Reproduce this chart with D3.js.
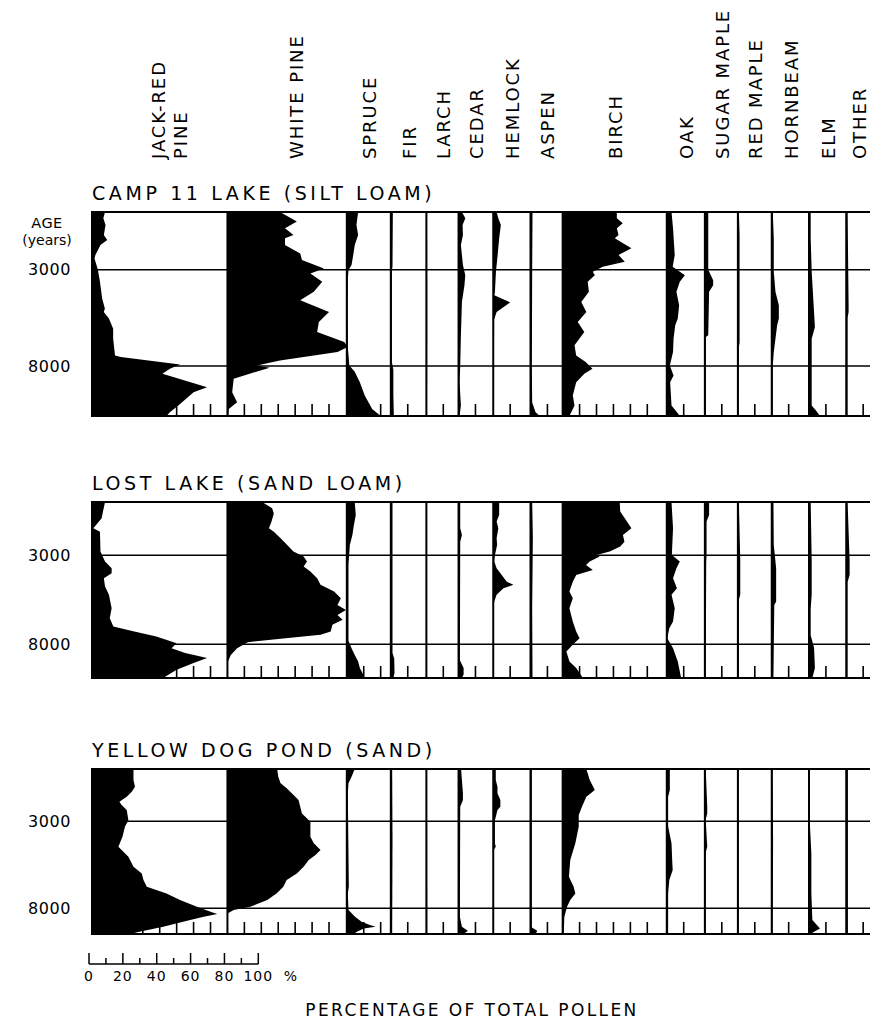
<!DOCTYPE html>
<html><head><meta charset="utf-8">
<script src="https://cdn.jsdelivr.net/npm/d3@7"></script>
<style>
body{margin:0;background:#fff}
svg{display:block}
text{font-family:"DejaVu Sans",sans-serif;fill:#000}
</style>
</head><body>
<svg id="c" width="870" height="1021"></svg>
<script>
// ---------------- DATA ----------------
const TAXA = [["JACK-RED","PINE"],["WHITE PINE"],["SPRUCE"],["FIR"],["LARCH"],["CEDAR"],["HEMLOCK"],["ASPEN"],["BIRCH"],["OAK"],["SUGAR MAPLE"],["RED MAPLE"],["HORNBEAM"],["ELM"],["OTHER"]];
// percentage range given to each taxon column
const COL_MAX = [80,70.5,26,21,19,20.5,22,19,61.5,22.5,19.5,20,22,22,20];
const SITES = ["CAMP 11 LAKE (SILT LOAM)","LOST LAKE (SAND LOAM)","YELLOW DOG POND (SAND)"];
const SITE_MAX_AGE = [10600, 9900, 9480];
const AGE_TICKS = [3000, 8000];
const PCT_TICKS = [0,10,20,30,40,50,60,70,80,90,100];
const PCT_LABELS = [0,20,40,60,80,100];

// Camp 11 Lake  [age (yr BP), percent]
const C_JACK = [[0,7.7],[330,6.7],[680,8],[1200,7],[1460,9],[1720,5],[2240,2],[2410,1.5],[3020,3.5],[3630,4.7],[4500,6],[5020,7.6],[5190,7],[5540,10],[6060,12.5],[6580,12.5],[7450,13.6],[7530,17],[7930,52],[8140,46],[8400,41.6],[9100,68],[9360,60],[10050,51],[10400,46],[10600,44]];
const C_WHITE = [[0,31],[500,41],[850,34],[1200,39],[1370,34],[1720,34],[2150,43],[2500,44],[2930,57],[3190,49],[3630,56],[4150,51],[4580,43],[5190,60],[5710,54],[6230,53],[6750,69],[7010,71],[7270,65],[7710,31],[7970,17.5],[8090,25],[8230,19.5],[8660,3.7],[9360,2.8],[9880,5.7],[10230,0.8],[10600,0.5]];
const C_SPRUCE = [[0,6.7],[680,5.7],[1200,6.7],[1720,4.7],[2240,3.8],[2760,2.8],[3020,1],[3500,0.6],[5000,0.5],[7000,0.6],[7970,1.5],[8300,4.7],[8840,7.7],[9530,10.6],[10230,15],[10600,20]];
const C_FIR = [[0,1.2],[2800,1],[3100,0.6],[7800,0.6],[8200,1.5],[9500,1.5],[10600,1.8]];
const C_LARCH = [[0,0.4],[5000,0.5],[10600,0.4]];
const C_CEDAR = [[0,2],[330,4],[680,2.4],[1200,2.6],[1720,1.4],[2760,2.6],[3280,4],[3800,3.5],[4670,2],[6400,1.4],[7970,1],[8840,0.6],[10050,1.4],[10600,0.6]];
const C_HEMLOCK = [[0,2],[330,3],[680,4.5],[1370,3.5],[2240,2.6],[3100,1.6],[4150,1],[4320,0.6],[4700,10],[5190,2],[5600,0.5],[10600,0.3]];
const C_ASPEN = [[0,1.2],[3000,1],[8000,0.8],[9900,1],[10400,3],[10600,5.5]];
const C_BIRCH = [[0,32],[330,32],[590,35.5],[850,32],[1200,33],[1370,30.8],[1890,40.6],[2240,33],[2590,36.7],[2850,23.7],[3110,17.8],[3280,19],[3630,14.8],[4150,15.5],[4670,11],[5190,14],[5710,8.9],[6230,12.8],[6930,7],[7450,8],[7790,13.6],[8140,17.6],[8400,12.8],[8840,8],[9530,6],[10050,7],[10600,4]];
const C_OAK = [[0,2.8],[850,3.7],[2240,4.7],[2850,3.5],[3280,10.7],[3630,7.7],[4150,5.7],[4840,7.3],[5540,6.5],[5880,5],[6580,4],[7270,3.7],[7970,1.8],[8490,4],[8840,2],[10050,2.8],[10480,6.7],[10600,7.7]];
const C_SUGAR = [[0,2],[3000,2],[3540,4.9],[3800,4.9],[4150,2.5],[6400,2],[6500,0.6],[10600,0.6]];
const C_REDMAPLE = [[0,0.6],[1200,1],[6800,1],[7000,0.6],[10600,0.5]];
const C_HORNBEAM = [[0,0.6],[1370,1.2],[3100,1.2],[4150,2.2],[4840,4.2],[5540,4.2],[5880,3.2],[6580,2.2],[7270,1.2],[7970,0.6],[10600,0.6]];
const C_ELM = [[0,1],[1370,1],[3110,1.6],[5970,3.5],[6580,1.6],[8660,1.6],[10050,1.6],[10300,4],[10600,6.5]];
const C_OTHER = [[0,0.8],[4840,1.4],[5190,1.4],[5500,0.8],[10600,0.8]];

// Lost Lake
const L_JACK = [[0,7.7],[540,6.5],[920,5.7],[1480,0.8],[1670,4.7],[2790,5],[3350,7.7],[3730,11.6],[4010,11.6],[4290,7],[4760,7.7],[5220,10],[5970,11.6],[6540,10.5],[7000,12.6],[7290,25],[7570,38],[7940,50],[8220,47],[8500,55],[8780,68],[9060,60],[9440,50],[9900,42]];
const L_WHITE = [[0,20.5],[356,26.4],[640,27.4],[1105,26],[1480,24.5],[1670,27.4],[2040,31.4],[2420,35.3],[2790,39],[3070,45],[3350,47],[3630,45],[3910,49],[4290,53],[4660,55],[5040,63],[5410,67],[5790,65],[6070,70],[6350,65],[6630,68],[6910,62],[7290,61],[7470,55],[7700,30],[7890,12],[8220,5.7],[8600,2],[8970,0.3],[9900,0.2]];
const L_SPRUCE = [[0,4.7],[730,5.3],[1290,4.2],[1850,3.3],[2420,1.8],[2980,1.4],[3500,1],[7800,1],[8220,2.8],[8600,4.7],[8970,6.7],[9340,7.7],[9700,9.7],[9900,10]];
const L_FIR = [[0,1],[8500,1],[8800,2],[9600,2.2],[9900,1.5]];
const L_LARCH = [[0,0.4],[9900,0.4]];
const L_CEDAR = [[0,1],[1480,1],[1850,2],[2230,1],[8900,0.8],[9340,3],[9700,3],[9900,2]];
const L_HEMLOCK = [[0,3.5],[730,3.5],[1100,2],[1480,3],[2040,2],[2420,2.3],[2980,1],[3350,0.6],[3730,2],[4100,5],[4480,8],[4660,11.9],[4850,6],[5220,2],[5600,0.6],[5800,0.3],[9900,0.4]];
const L_ASPEN = [[0,1],[2000,1.4],[6000,1],[9900,1.2]];
const L_BIRCH = [[0,33.7],[540,34],[920,36.7],[1480,40.6],[1850,35.6],[2230,36.5],[2510,34],[2790,27.8],[2980,20],[3070,21.9],[3350,16],[3540,13.8],[3820,17.8],[4100,8],[4480,6],[5040,4],[5410,6],[5970,4],[6350,5],[6720,6],[7290,8],[7660,10],[8030,6],[8410,2.2],[8970,4],[9340,8],[9900,12]];
const L_OAK = [[0,2.8],[1480,3.7],[2980,3],[3350,7.7],[3730,5.7],[4290,3.7],[4850,6],[5220,2.8],[5970,4.7],[6720,3.7],[7100,1.5],[7660,0.3],[8220,3.7],[8970,6.5],[9530,7.7],[9900,8.5]];
const L_SUGAR = [[0,2.5],[730,2.5],[1100,1],[3000,1],[3400,0.8],[9900,0.5]];
const L_REDMAPLE = [[0,0.6],[3300,1.4],[5200,1.4],[5500,0.6],[9900,0.6]];
const L_HORNBEAM = [[0,1],[2400,1.2],[3730,2.6],[5600,2.6],[5800,1.5],[9900,1]];
const L_ELM = [[0,1],[3300,1.6],[5200,1.6],[6000,1],[7500,1],[8200,3],[9340,3.5],[9900,2]];
const L_OTHER = [[0,0.8],[3300,2],[4100,2],[4500,0.8],[9900,0.8]];

// Yellow Dog Pond
const Y_JACK = [[0,24.5],[630,24.5],[1015,25.4],[1300,23.5],[1590,20.5],[1880,16.2],[2070,17.5],[2360,20.5],[2940,21.5],[3310,19.5],[3890,18],[4460,15.6],[4660,17.5],[5040,21.5],[5610,24.5],[6000,29.4],[6380,30.4],[6760,32.4],[7150,44],[7530,52],[7910,62],[8200,70],[8330,74],[8490,66],[8680,58],[9060,42],[9350,28],[9480,22.5]];
const Y_WHITE = [[0,29.4],[440,30],[820,31.4],[1110,35],[1400,38],[1780,42],[2170,43],[2550,44],[3030,49],[3890,49],[4270,51],[4660,55],[4940,52],[5230,48],[5610,45],[6000,41],[6380,35],[6760,33],[7150,29],[7530,23.5],[7910,13.6],[8100,3.7],[8290,0.3],[9480,0.3]];
const Y_SPRUCE = [[0,4.7],[440,2.8],[820,1],[1400,0.6],[6760,1.2],[7150,0.6],[8100,1],[8480,4.7],[8770,8.7],[8960,13.6],[9060,17],[9160,10],[9350,6],[9480,4]];
const Y_FIR = [[0,0.8],[4000,1],[9480,0.8]];
const Y_LARCH = [[0,0.4],[9480,0.5]];
const Y_CEDAR = [[0,1.5],[630,2],[1400,2.6],[1780,2.6],[2170,1],[8500,0.8],[9060,2],[9290,5.5],[9480,3]];
const Y_HEMLOCK = [[0,1.5],[630,1.5],[1015,2.5],[1400,2.5],[1780,4.2],[2170,4.2],[2360,2.5],[2940,1],[4270,1],[4460,1.5],[4660,0.3],[9480,0.3]];
const Y_ASPEN = [[0,0.8],[9100,0.8],[9290,4],[9480,3]];
const Y_BIRCH = [[0,14],[630,16],[1210,19],[1590,14],[2170,11.4],[2640,9.5],[3310,9.5],[4270,7.5],[5230,4.5],[6190,3.7],[6760,6.5],[7150,7.5],[7530,4.5],[7910,2.6],[8490,1],[9480,0.6]];
const Y_OAK = [[0,1.8],[1210,1.8],[1590,0.8],[3310,0.8],[4270,2.8],[5230,3.2],[5800,3.5],[6380,1.5],[7150,0.8],[9480,0.8]];
const Y_SUGAR = [[0,0.5],[2170,1.4],[2550,1.4],[2900,0.5],[4460,1.4],[4800,0.5],[9480,0.5]];
const Y_REDMAPLE = [[0,0.5],[9480,0.5]];
const Y_HORNBEAM = [[0,0.5],[4270,0.8],[9480,0.5]];
const Y_ELM = [[0,0.6],[3300,0.6],[4850,1.4],[7150,1.4],[8680,2],[9160,6.5],[9350,3],[9480,1]];
const Y_OTHER = [[0,1],[9480,1]];

const SITE_SERIES = [
  [C_JACK,C_WHITE,C_SPRUCE,C_FIR,C_LARCH,C_CEDAR,C_HEMLOCK,C_ASPEN,C_BIRCH,C_OAK,C_SUGAR,C_REDMAPLE,C_HORNBEAM,C_ELM,C_OTHER],
  [L_JACK,L_WHITE,L_SPRUCE,L_FIR,L_LARCH,L_CEDAR,L_HEMLOCK,L_ASPEN,L_BIRCH,L_OAK,L_SUGAR,L_REDMAPLE,L_HORNBEAM,L_ELM,L_OTHER],
  [Y_JACK,Y_WHITE,Y_SPRUCE,Y_FIR,Y_LARCH,Y_CEDAR,Y_HEMLOCK,Y_ASPEN,Y_BIRCH,Y_OAK,Y_SUGAR,Y_REDMAPLE,Y_HORNBEAM,Y_ELM,Y_OTHER]
];

// ---------------- LAYOUT ----------------
const W = 870;
const LEFT = 92, PX_PER_PCT = 1.693;
const PANEL_TOP = [212, 502, 769];
const PANEL_BOT = [416, 678, 934];
const LABEL_NUDGE = {0: 9, 1: 8, 14: -5};
const svg = d3.select("#c");

const colStart = [];
COL_MAX.reduce((acc, w, i) => { colStart[i] = acc; return acc + w; }, 0);
const total = d3.sum(COL_MAX);
const x = d3.scaleLinear().domain([0, total]).range([LEFT, LEFT + total * PX_PER_PCT]);

// column header labels (rotated)
TAXA.forEach((lines, i) => {
  const cx = x(colStart[i] + COL_MAX[i] / 2) + 1 + (LABEL_NUDGE[i] || 0);
  const n = lines.length;
  lines.forEach((t, j) => {
    const lx = cx + (j - (n - 1) / 2) * 22;
    svg.append("text")
      .attr("transform", `translate(${lx},159) rotate(-90)`)
      .attr("dy", "0.36em")
      .attr("font-size", 18)
      .attr("letter-spacing", 1.9)
      .text(t);
  });
});

// AGE (years) label
svg.append("text").attr("x", 47).attr("y", 228).attr("text-anchor", "middle")
  .attr("font-size", 14.5).attr("letter-spacing", 0.5).text("AGE");
svg.append("text").attr("x", 47).attr("y", 245).attr("text-anchor", "middle")
  .attr("font-size", 14).text("(years)");

SITES.forEach((site, p) => {
  const top = PANEL_TOP[p], bot = PANEL_BOT[p];
  const y = d3.scaleLinear().domain([0, SITE_MAX_AGE[p]]).range([top, bot]);
  const g = svg.append("g");

  // title
  g.append("text").attr("x", LEFT).attr("y", top - 12)
    .attr("font-size", 19).attr("letter-spacing", 3.6).text(site);

  // silhouettes
  SITE_SERIES[p].forEach((data, i) => {
    const x0 = x(colStart[i]);
    const area = d3.area()
      .x0(x0)
      .x1(d => x(colStart[i] + d[1]))
      .y(d => y(d[0]));
    g.append("path").attr("d", area(data)).attr("fill", "#000");
  });

  // horizontal lines: top, age ticks, bottom
  [0, ...AGE_TICKS, SITE_MAX_AGE[p]].forEach((a, k) => {
    g.append("line")
      .attr("x1", LEFT).attr("x2", W)
      .attr("y1", y(a)).attr("y2", y(a))
      .attr("stroke", "#000")
      .attr("stroke-width", (k === 0 || a === SITE_MAX_AGE[p]) ? 2 : 1.5);
  });

  // column boundaries
  [...colStart, total].forEach(c => {
    g.append("line")
      .attr("x1", x(c)).attr("x2", x(c))
      .attr("y1", top - 1).attr("y2", bot + 1)
      .attr("stroke", "#000").attr("stroke-width", 2);
  });

  // bottom ticks every 10%
  COL_MAX.forEach((m, i) => {
    d3.range(10, m - 3, 10).forEach(t => {
      g.append("line")
        .attr("x1", x(colStart[i] + t)).attr("x2", x(colStart[i] + t))
        .attr("y1", bot).attr("y2", bot - 12)
        .attr("stroke", "#000").attr("stroke-width", 1.6);
    });
  });

  // age labels
  AGE_TICKS.forEach(a => {
    g.append("text").attr("x", 71).attr("y", y(a)).attr("dy", "0.36em")
      .attr("text-anchor", "end").attr("font-size", 16).attr("letter-spacing", 0.6)
      .text(a);
  });
});

// percentage scale bar
const sx = d3.scaleLinear().domain([0, 100]).range([89, 89 + 100 * PX_PER_PCT]);
const barY = 964;
svg.append("line").attr("x1", sx(0)).attr("x2", sx(100)).attr("y1", barY).attr("y2", barY)
  .attr("stroke", "#000").attr("stroke-width", 1.5);
PCT_TICKS.forEach((t, k) => {
  svg.append("line").attr("x1", sx(t)).attr("x2", sx(t))
    .attr("y1", barY).attr("y2", barY - (k % 2 === 0 ? 11 : 6))
    .attr("stroke", "#000").attr("stroke-width", 1.5);
});
PCT_LABELS.forEach(t => {
  svg.append("text").attr("x", sx(t)).attr("y", 981).attr("text-anchor", "middle")
    .attr("font-size", 14).attr("letter-spacing", 1).text(t);
});
svg.append("text").attr("x", sx(100) + 32).attr("y", 981).attr("text-anchor", "middle")
  .attr("font-size", 14).text("%");

svg.append("text").attr("x", 472).attr("y", 1016).attr("text-anchor", "middle")
  .attr("font-size", 17).attr("letter-spacing", 2.4).text("PERCENTAGE OF TOTAL POLLEN");
</script>
</body></html>
